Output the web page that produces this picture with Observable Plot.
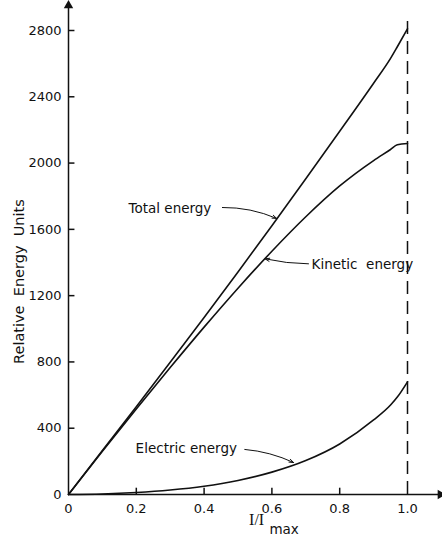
<!DOCTYPE html>
<html><head><meta charset="utf-8">
<script src="https://cdn.jsdelivr.net/npm/d3@7"></script>
<script src="https://cdn.jsdelivr.net/npm/@observablehq/plot@0.6"></script>
<style>body{margin:0;background:#fff}</style>
</head><body><div id="chart"></div>
<script>
// I / Imax ratio
const ratio = [0, 0.1, 0.2, 0.3, 0.4, 0.5, 0.6, 0.7, 0.8, 0.9, 0.95, 0.97, 1.0];
const totalEnergy    = [0, 265, 530, 798, 1068, 1343, 1622, 1905, 2192, 2482, 2632, 2702, 2810];
const kineticEnergy  = [0, 261, 516, 766, 1010, 1245, 1468, 1676, 1862, 2015, 2082, 2110, 2118];
const electricEnergy = [0, 3, 12, 27, 50, 85, 135, 205, 305, 450, 540, 588, 680];

const xTicks = [0, 0.2, 0.4, 0.6, 0.8, 1.0];
const yTicks = [0, 400, 800, 1200, 1600, 2000, 2400, 2800];

// annotations (data units)
const labelNames = ["Total energy", "Kinetic\u00a0 energy", "Electric energy"];
const labelX = [0.177, 0.717, 0.198];
const labelY = [1726, 1385, 278];
const arrowX1 = [0.454, 0.708, 0.520];
const arrowY1 = [1732, 1392, 272];
const arrowX2 = [0.614, 0.580, 0.664];
const arrowY2 = [1666, 1422, 193];
const arrowBend = [12, 6, 10];

const xMaxArrow = 1.097, yMaxArrow = 2951, dashTop = 2873;

const series = [
  ["Total", totalEnergy], ["Kinetic", kineticEnergy], ["Electric", electricEnergy]
];
const lineData = series.flatMap(([name, vals]) => ratio.map((r, i) => ({series: name, x: r, y: vals[i]})));
const labels = labelNames.map((t, i) => ({text: t, x: labelX[i], y: labelY[i]}));

const arrowMarks = labelNames.map((t, i) => Plot.arrow(
  [{x1: arrowX1[i], y1: arrowY1[i], x2: arrowX2[i], y2: arrowY2[i]}],
  {x1: "x1", y1: "y1", x2: "x2", y2: "y2", bend: arrowBend[i], stroke: "#111", strokeWidth: 1, headLength: 7, headAngle: 40}
));

const chart = Plot.plot({
  width: 442, height: 538,
  marginLeft: 68, marginRight: 35, marginTop: 30, marginBottom: 44,
  x: {domain: [0, 1]},
  y: {domain: [0, 2800]},
  style: {fontFamily: "DejaVu Sans", fontSize: "13px", color: "#111", background: "#fff"},
  marks: [
    Plot.axisX({ticks: xTicks, tickSize: 0, tickPadding: 9, label: null,
      tickFormat: d => d === 0 ? "0" : d.toFixed(1)}),
    Plot.axisY({ticks: yTicks, tickSize: 0, tickPadding: 7, label: null, tickFormat: d3.format("d")}),
    Plot.ruleX(xTicks.slice(1, -1), {x: d => d, y1: 0, y2: 38, stroke: "#111", strokeWidth: 1.5}),
    Plot.ruleY(yTicks.slice(1), {y: d => d, x1: 0, x2: 0.019, stroke: "#111", strokeWidth: 1.5}),
    Plot.ruleX([0], {y1: 0, y2: yMaxArrow, stroke: "#111", strokeWidth: 1.5}),
    Plot.ruleY([0], {x1: 0, x2: xMaxArrow, stroke: "#111", strokeWidth: 1.5}),
    Plot.dot([{x: 0, y: yMaxArrow}], {x: "x", y: "y", symbol: "triangle", r: 3.5, fill: "#111", stroke: null}),
    Plot.dot([{x: xMaxArrow, y: 0}], {x: "x", y: "y", symbol: "triangle", r: 3.5, fill: "#111", stroke: null, rotate: 90}),
    Plot.ruleX([1.0], {y1: 0, y2: dashTop, stroke: "#111", strokeWidth: 1.5, strokeDasharray: "13,7"}),
    Plot.line(lineData, {x: "x", y: "y", z: "series", stroke: "#111", strokeWidth: 1.6, curve: "monotone-x"}),
    Plot.text(labels, {x: "x", y: "y", text: "text", textAnchor: "start", fontSize: 13.5, fill: "#111"}),
    ...arrowMarks,
    Plot.text(["Relative \u00a0Energy \u00a0Units"], {x: -0.145, y: 1285, rotate: -90, fontSize: 14.5, fill: "#111"}),
    Plot.text(["I/I"], {x: 0.555, y: -151, fontSize: 16, fontFamily: "Liberation Serif", fill: "#111"}),
    Plot.text(["max"], {x: 0.636, y: -211, fontSize: 13.5, fill: "#111"})
  ]
});
document.getElementById("chart").append(chart);
</script>
</body></html>
